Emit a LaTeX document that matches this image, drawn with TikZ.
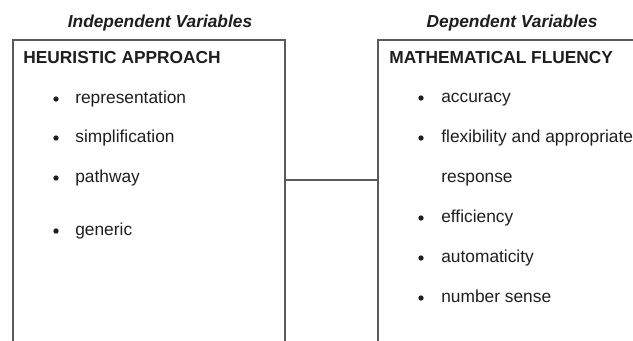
\documentclass[tikz,border=0pt]{standalone}
\usepackage{fontspec}
\setmainfont{Liberation Sans}
\usetikzlibrary{positioning}

\definecolor{inkgray}{HTML}{1E1E1E}
\definecolor{linegray}{HTML}{5A5A5A}

\begin{document}
\begin{tikzpicture}[x=0.6pt, y=-0.6pt,
        varbox/.style={draw=linegray, line width=0.9pt, anchor=north west, minimum height=250pt, inner sep=0pt},
        vartitle/.style={font=\bfseries\itshape\fontsize{10.4}{12}\selectfont, text=inkgray, anchor=base},
        boxhead/.style={font=\bfseries\fontsize{10.4}{12}\selectfont, text=inkgray, anchor=base west, inner sep=0pt},
        dotmark/.style={circle, fill=inkgray, inner sep=0pt, minimum size=3.2pt},
        itemtext/.style={font=\fontsize{10.4}{12}\selectfont, text=inkgray, anchor=base west, inner sep=0pt}]
    \useasboundingbox (0,0) rectangle (633,340);
    \clip (0,0) rectangle (633,340);

    % headings above the boxes
    \node[vartitle] (indep) at (160,27) {Independent Variables};
    \node[vartitle] (dep) at (512,27) {Dependent Variables};

    % the two boxes
    \node[varbox, minimum width=163.2pt] (heur) at (12,39) {};
    \node[varbox, minimum width=160pt] (fluency) at (377,39) {};

    % left box
    \node[boxhead] (heurhead) at (23,63) {HEURISTIC APPROACH};
    \node[dotmark] (b1) at (56,99) {};
    \node[itemtext] (repr) at (75,103) {representation};
    \node[dotmark] (b2) at (56,138) {};
    \node[itemtext] (simpl) at (75,142) {simplification};
    \node[dotmark] (b3) at (56,178) {};
    \node[itemtext] (path) at (75,182) {pathway};
    \node[dotmark] (b4) at (56,231) {};
    \node[itemtext] (gener) at (75,235) {generic};

    % right box
    \node[boxhead] (fluhead) at (389,63) {MATHEMATICAL FLUENCY};
    \node[dotmark] (d1) at (421,98) {};
    \node[itemtext] (accur) at (441,102) {accuracy};
    \node[dotmark] (d2) at (421,138) {};
    \node[itemtext] (flex) at (441,142) {flexibility and appropriate};
    \node[itemtext] (resp) at (441,182) {response};
    \node[dotmark] (d3) at (421,218) {};
    \node[itemtext] (effic) at (441,222) {efficiency};
    \node[dotmark] (d4) at (421,258) {};
    \node[itemtext] (autom) at (441,262) {automaticity};
    \node[dotmark] (d5) at (421,298) {};
    \node[itemtext] (numsense) at (441,302) {number sense};

    % link between the boxes
    \coordinate (linky) at (0,180);
    \draw[linegray, line width=0.8pt] (heur.east |- linky) -- (fluency.west |- linky);
\end{tikzpicture}
\end{document}
